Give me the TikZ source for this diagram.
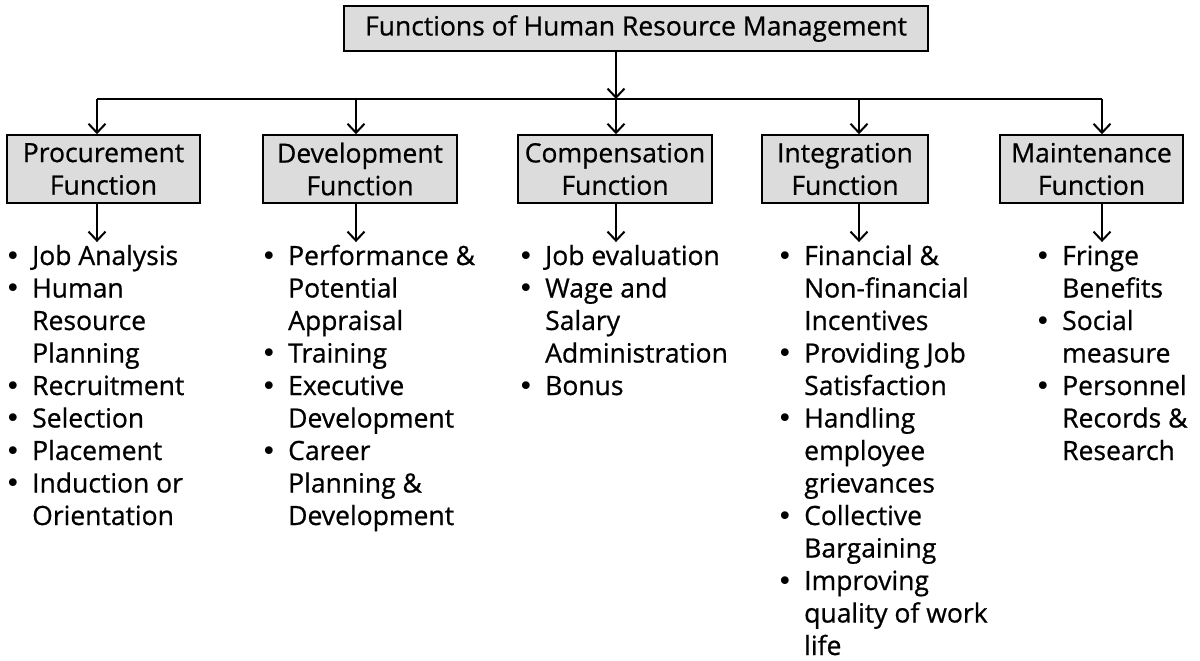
\documentclass[tikz,border=0pt]{standalone}
\usepackage{fontspec}
\setmainfont{Open Sans}[FakeBold=0.7]
\newfontfamily\bltfont{DejaVu Sans}
\usetikzlibrary{arrows.meta}

\begin{document}
\begin{tikzpicture}[x=1pt,y=-1pt]
\tikzstyle{every node}+=[inner sep=0pt, font=\fontsize{26.5}{32.5}\selectfont]
\tikzstyle{fnbox}=[draw=black, line width=1.6pt, fill={rgb,255:red,220;green,220;blue,220}, align=center]
\tikzstyle{arr}=[line width=2pt, -{Straight Barb[length=9pt,width=17pt,line width=2pt]}]
\newcommand{\blt}{\makebox[27pt][l]{\bltfont •}}
\useasboundingbox (0,0) rectangle (1200,661);
\node [fnbox, minimum width=584pt, minimum height=45pt] (hrm) at (636,28.5) {Functions of Human Resource Management};
\node [fnbox, minimum width=193pt, minimum height=68pt] (proc) at (103.5,169) {Procurement\\Function};
\node [fnbox, minimum width=194pt, minimum height=68pt] (dev) at (360,169) {Development\\Function};
\node [fnbox, minimum width=194pt, minimum height=68pt] (comp) at (615,169) {Compensation\\Function};
\node [fnbox, minimum width=166pt, minimum height=68pt] (integ) at (845,169) {Integration\\Function};
\node [fnbox, minimum width=183pt, minimum height=68pt] (maint) at (1091.5,169) {Maintenance\\Function};
\coordinate (b1) at (97,99);
\coordinate (b2) at (356,99);
\coordinate (b3) at (616,99);
\coordinate (b4) at (859,99);
\coordinate (b5) at (1102,99);
\node [anchor=base west] (lproc) at (5,265) {\begin{tabular}[t]{@{}l@{}l@{}}
\blt & Job Analysis\\
\blt & Human\\
 & Resource\\
 & Planning\\
\blt & Recruitment\\
\blt & Selection\\
\blt & Placement\\
\blt & Induction or\\
 & Orientation
\end{tabular}};
\node [anchor=base west] (ldev) at (261,265) {\begin{tabular}[t]{@{}l@{}l@{}}
\blt & Performance \&\\
 & Potential\\
 & Appraisal\\
\blt & Training\\
\blt & Executive\\
 & Development\\
\blt & Career\\
 & Planning \&\\
 & Development
\end{tabular}};
\node [anchor=base west] (lcomp) at (518,265) {\begin{tabular}[t]{@{}l@{}l@{}}
\blt & Job evaluation\\
\blt & Wage and\\
 & Salary\\
 & Administration\\
\blt & Bonus
\end{tabular}};
\node [anchor=base west] (linteg) at (777,265) {\begin{tabular}[t]{@{}l@{}l@{}}
\blt & Financial \&\\
 & Non-financial\\
 & Incentives\\
\blt & Providing Job\\
 & Satisfaction\\
\blt & Handling\\
 & employee\\
 & grievances\\
\blt & Collective\\
 & Bargaining\\
\blt & Improving\\
 & quality of work\\
 & life
\end{tabular}};
\node [anchor=base west] (lmaint) at (1035,265) {\begin{tabular}[t]{@{}l@{}l@{}}
\blt & Fringe\\
 & Benefits\\
\blt & Social\\
 & measure\\
\blt & Personnel\\
 & Records \&\\
 & Research
\end{tabular}};
\draw [line width=2pt] (b1) -- (b5);
\draw [arr] (b3 |- hrm.south) -- (b3);
\draw [arr] (b1) -- (b1 |- proc.north);
\draw [arr] (b2) -- (b2 |- dev.north);
\draw [arr] (b3) -- (b3 |- comp.north);
\draw [arr] (b4) -- (b4 |- integ.north);
\draw [arr] (b5) -- (b5 |- maint.north);
\draw [arr] (b1 |- proc.south) -- (b1 |- lproc.north);
\draw [arr] (b2 |- dev.south) -- (b2 |- ldev.north);
\draw [arr] (b3 |- comp.south) -- (b3 |- lcomp.north);
\draw [arr] (b4 |- integ.south) -- (b4 |- linteg.north);
\draw [arr] (b5 |- maint.south) -- (b5 |- lmaint.north);
\end{tikzpicture}
\end{document}
